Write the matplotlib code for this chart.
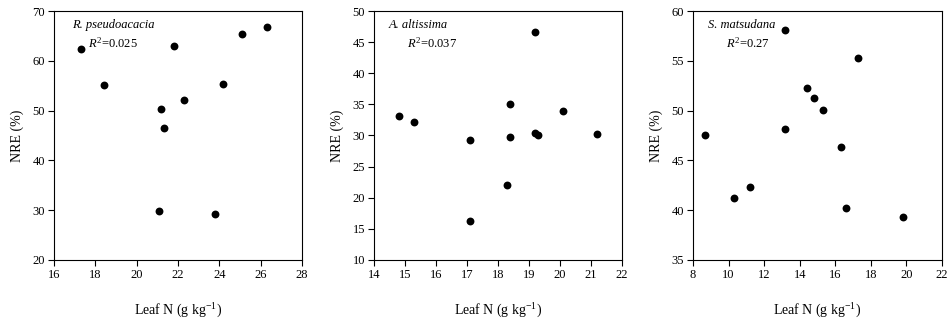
import matplotlib
matplotlib.use("Agg")
import matplotlib.pyplot as plt

plt.rcParams['font.family'] = ['Liberation Serif']
plt.rcParams['mathtext.fontset'] = 'custom'
plt.rcParams['mathtext.rm'] = 'Liberation Serif'
plt.rcParams['mathtext.it'] = 'Liberation Serif:italic'

# Panel 1: R. pseudoacacia
rp_x = [17.3, 18.4, 21.2, 21.3, 21.1, 21.8, 22.3, 23.8, 24.2, 25.1, 26.3]
rp_y = [62.3, 55.1, 50.3, 46.6, 29.8, 63.0, 52.1, 29.3, 55.4, 65.4, 66.7]
# Panel 2: A. altissima
aa_x = [14.8, 15.3, 17.1, 17.1, 18.3, 18.4, 18.4, 19.2, 19.2, 19.3, 20.1, 21.2]
aa_y = [33.1, 32.1, 29.2, 16.2, 22.1, 35.1, 29.8, 46.6, 30.4, 30.0, 34.0, 30.3]
# Panel 3: S. matsudana
sm_x = [8.7, 10.3, 11.2, 13.2, 13.2, 14.4, 14.8, 15.3, 16.3, 16.6, 17.3, 19.8]
sm_y = [47.6, 41.2, 42.3, 58.1, 48.2, 52.3, 51.3, 50.1, 46.3, 40.2, 55.3, 39.3]

species = ["R. pseudoacacia", "A. altissima", "S. matsudana"]
r2_labels = ["0.025", "0.037", "0.27"]
x_limits = [(16, 28), (14, 22), (8, 22)]
x_ticks = [list(range(16, 29, 2)), list(range(14, 23, 1)), list(range(8, 23, 2))]
y_limits = [(20, 70), (10, 50), (35, 60)]
y_ticks = [list(range(20, 71, 10)), list(range(10, 51, 5)), list(range(35, 61, 5))]

W, H = 949, 322
fig = plt.figure(figsize=(W / 100, H / 100), dpi=100)

boxes = [(54, 302), (374, 622), (693, 942)]
top_px, bot_px = 11, 260
data = [(rp_x, rp_y), (aa_x, aa_y), (sm_x, sm_y)]
sp_pos = [(0.073, 0.944), (0.06, 0.944), (0.06, 0.944)]
r2_pos = [(0.137, 0.871), (0.133, 0.871), (0.133, 0.871)]

for i in range(3):
    l, r = boxes[i]
    ax = fig.add_axes([l / W, (H - bot_px) / H, (r - l) / W, (bot_px - top_px) / H])
    x, y = data[i]
    ax.scatter(x, y, s=32, color='black', zorder=3, linewidths=0)
    ax.set_xlim(*x_limits[i])
    ax.set_ylim(*y_limits[i])
    ax.set_xticks(x_ticks[i])
    ax.set_yticks(y_ticks[i])
    ax.tick_params(direction='out', length=4.5, width=0.8, labelsize=9, pad=2,
                   top=False, right=False)
    for sp in ax.spines.values():
        sp.set_linewidth(0.8)
    ax.set_xlabel('Leaf N (g kg$^{-1}$)', fontsize=10, labelpad=15)
    ax.set_ylabel('NRE (%)', fontsize=10, labelpad=6)
    ax.text(sp_pos[i][0], sp_pos[i][1], species[i], transform=ax.transAxes,
            fontsize=9, style='italic', va='center', ha='left')
    ax.text(r2_pos[i][0], r2_pos[i][1], r'$R^{\mathrm{2}}$=' + r2_labels[i],
            transform=ax.transAxes, fontsize=9, va='center', ha='left')

fig.savefig('out.png', dpi=100)
